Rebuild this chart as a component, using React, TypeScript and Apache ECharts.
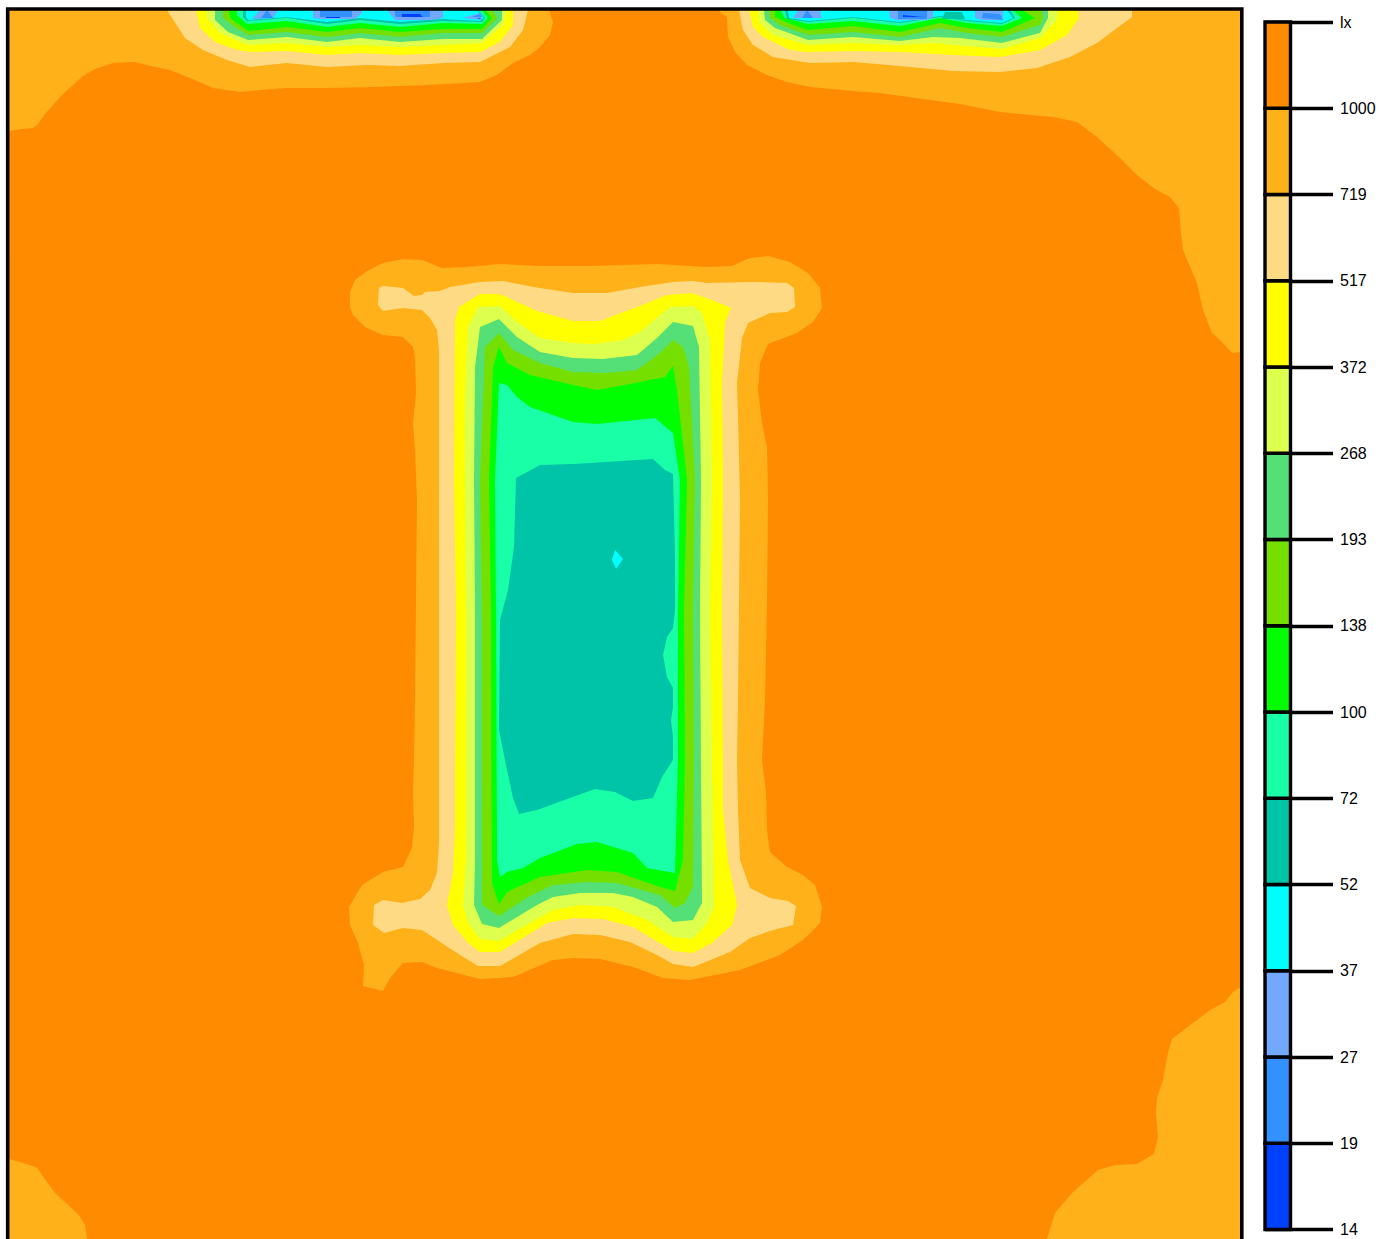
import React, { useEffect, useRef } from "react";
import * as echarts from "echarts";

type Pt = [number, number];

// Legend: classes from the lowest upward, with the limits on the colour bar
const tickLabels = ["14", "19", "27", "37", "52", "72", "100", "138", "193", "268", "372", "517", "719", "1000", "lx"];
const classColors = ["#0040FF", "#3390FF", "#73A8FF", "#00FFFF", "#00C4A8", "#19FFA8", "#00FF00", "#75DF00", "#55E077", "#DDFF4D", "#FFFF00", "#FFDA85", "#FFB119", "#FF8C00"];

// Contours of class 719-1000 lx
const c1000TopLeft: Pt[] = [[9,10],[549,10],[553,22],[550,35],[540,47],[530,55],[513,63],[497,75],[480,82],[427,85],[373,87],[327,88],[287,88],[260,90],[240,92],[213,88],[190,78],[170,70],[160,68],[147,65],[135,62],[113,63],[95,69],[83,76],[62,95],[45,114],[38,124],[33,128],[22,129],[9,131]];
const c1000TopRight: Pt[] = [[720,10],[1241,10],[1241,352],[1232,353],[1220,340],[1212,333],[1203,310],[1197,283],[1183,250],[1181,233],[1179,208],[1170,197],[1155,189],[1138,176],[1120,158],[1097,137],[1077,122],[1053,117],[1040,116],[1000,112],[960,104],[923,99],[880,93],[853,91],[810,87],[787,82],[767,75],[747,65],[735,52],[728,37],[727,17],[720,12]];
const c1000BottomLeft: Pt[] = [[9,1159],[30,1165],[37,1168],[55,1193],[78,1214],[85,1225],[88,1245],[9,1245]];
const c1000BottomRight: Pt[] = [[1241,987],[1233,992],[1225,1002],[1210,1010],[1193,1023],[1172,1039],[1168,1053],[1163,1080],[1157,1098],[1156,1113],[1158,1137],[1154,1154],[1137,1164],[1115,1165],[1098,1170],[1072,1193],[1055,1213],[1045,1245],[1241,1245]];
const c1000Centre: Pt[] = [[350,292],[355,280],[367,271],[383,263],[403,259],[422,260],[442,268],[467,267],[500,264],[540,266],[590,266],[657,264],[707,267],[732,266],[750,258],[768,256],[790,262],[808,273],[820,288],[822,308],[813,322],[797,333],[768,344],[760,363],[758,390],[762,423],[767,447],[768,500],[767,600],[765,700],[762,760],[766,793],[767,830],[770,852],[787,867],[803,875],[815,885],[822,907],[820,923],[803,940],[780,955],[740,970],[690,980],[663,978],[633,967],[600,959],[573,958],[553,960],[513,977],[480,979],[437,968],[422,962],[403,963],[390,978],[383,991],[363,986],[364,965],[358,943],[350,925],[349,907],[362,885],[383,872],[403,867],[412,848],[414,827],[413,793],[414,760],[415,700],[416,600],[417,500],[415,450],[413,423],[416,393],[415,357],[413,347],[403,337],[383,335],[365,327],[353,315],[350,307]];

// Contours of class 517-719 lx
const c719Centre: Pt[] = [[378,305],[379,288],[383,286],[403,288],[414,296],[422,295],[425,292],[440,291],[450,287],[480,282],[503,281],[533,287],[573,293],[607,293],[640,287],[673,282],[693,281],[707,283],[753,282],[787,283],[794,288],[795,307],[787,312],[770,313],[748,323],[742,338],[737,383],[738,417],[740,500],[738,700],[737,760],[738,810],[740,860],[750,888],[770,898],[788,901],[796,906],[793,925],[773,930],[750,938],[730,952],[693,967],[673,964],[657,955],[630,942],[600,935],[573,934],[540,943],[500,966],[478,966],[457,953],[422,930],[403,928],[384,933],[373,925],[374,905],[383,900],[402,903],[420,899],[430,890],[437,873],[439,843],[439,760],[439,500],[439,350],[437,330],[430,318],[422,310],[403,308],[383,311]];
const c719Left: Pt[] = [[167,10],[185,38],[203,50],[227,60],[250,67],[287,63],[327,67],[367,65],[400,66],[443,63],[480,62],[510,47],[523,30],[528,10]];
const c719Right: Pt[] = [[739,10],[743,30],[753,45],[773,57],[810,63],[853,62],[900,66],[953,71],[1000,72],[1037,68],[1070,57],[1097,43],[1117,28],[1132,17],[1132,10]];

// Contours of class 372-517 lx
const c517Centre: Pt[] = [[454,480],[455,320],[459,307],[480,294],[500,294],[537,311],[573,321],[600,321],[637,307],[667,295],[692,293],[717,302],[731,308],[725,322],[722,383],[723,480],[722,613],[723,780],[723,810],[728,860],[737,905],[732,925],[712,943],[693,953],[673,951],[633,927],[603,919],[573,918],[547,923],[500,952],[480,952],[468,943],[453,925],[447,905],[453,873],[455,827],[455,780],[456,613]];
const c517Left: Pt[] = [[196,10],[200,28],[215,42],[237,50],[250,52],[287,51],[327,55],[360,53],[400,55],[443,53],[480,52],[500,42],[513,25],[513,10]];
const c517Right: Pt[] = [[749,10],[753,27],[763,37],[790,50],[807,52],[853,51],[900,52],[953,55],[1000,57],[1040,50],[1067,35],[1079,18],[1078,10]];

// Contours of class 268-372 lx
const c372Centre: Pt[] = [[465,480],[465,400],[468,327],[478,307],[500,306],[517,322],[540,338],[573,343],[593,344],[623,340],[640,332],[660,315],[670,307],[693,306],[702,313],[710,340],[712,480],[710,613],[712,760],[714,907],[707,923],[693,939],[673,937],[647,920],[613,907],[580,905],[553,910],[530,923],[499,941],[480,939],[468,923],[463,905],[466,860],[466,613]];
const c372Left: Pt[] = [[206,10],[207,18],[220,33],[248,45],[287,43],[327,47],[360,45],[400,47],[443,45],[482,43],[503,25],[507,10]];
const c372Right: Pt[] = [[758,10],[760,23],[773,35],[808,45],[853,43],[900,45],[933,43],[953,45],[1002,49],[1040,38],[1057,20],[1058,10]];

// Contours of class 193-268 lx
const c268Centre: Pt[] = [[474,480],[475,367],[480,327],[499,319],[517,337],[540,352],[573,358],[603,359],[637,355],[657,338],[673,322],[693,326],[699,347],[701,480],[700,613],[701,760],[702,903],[693,920],[673,922],[657,907],[633,897],[613,893],[580,893],[553,897],[537,905],[499,928],[482,924],[474,905],[475,860],[475,613]];
const c268Left: Pt[] = [[215,10],[215,20],[228,32],[248,40],[287,37],[327,42],[360,38],[400,42],[443,39],[482,39],[502,20],[502,10]];
const c268Right: Pt[] = [[764,10],[765,20],[775,28],[808,40],[853,37],[900,41],[933,37],[960,38],[1002,43],[1040,33],[1048,18],[1048,10]];

// Contours of class 138-193 lx
const c193Centre: Pt[] = [[480,480],[485,347],[499,333],[513,350],[540,363],[573,372],[607,373],[637,370],[660,353],[673,340],[683,347],[689,367],[695,480],[693,613],[694,760],[693,887],[685,903],[675,908],[660,895],[617,883],[587,882],[553,885],[528,897],[499,916],[482,905],[482,613]];
const c193Left: Pt[] = [[223,10],[223,18],[232,25],[248,35],[287,32],[327,37],[360,33],[400,37],[443,33],[482,33],[497,18],[492,10]];
const c193Right: Pt[] = [[769,10],[770,18],[780,25],[808,35],[853,32],[900,37],[940,28],[967,33],[1002,37],[1040,25],[1043,18],[1042,10]];

// Contours of class 100-138 lx
const c138Centre: Pt[] = [[489,480],[493,367],[499,347],[507,363],[530,375],[573,385],[597,390],[630,384],[665,377],[673,366],[677,390],[687,480],[684,613],[685,760],[683,860],[675,891],[660,887],[617,872],[587,870],[540,877],[507,892],[499,904],[492,883],[491,613]];
const c138Left: Pt[] = [[229,10],[230,18],[248,31],[287,27],[327,32],[360,28],[400,32],[443,29],[482,29],[492,18],[485,10]];
const c138Right: Pt[] = [[775,10],[775,17],[788,23],[808,30],[853,26],[900,32],[940,23],[967,28],[1002,32],[1035,18],[1022,10]];

// Contours of class 72-100 lx
const c100Centre: Pt[] = [[495,480],[499,383],[507,385],[517,397],[530,407],[573,422],[597,424],[655,418],[673,433],[680,480],[678,613],[678,760],[675,873],[647,868],[633,853],[597,842],[577,844],[540,858],[523,868],[507,872],[500,877],[497,860],[496,613]];
const c100Left: Pt[] = [[237,10],[237,15],[247,24],[287,21],[327,27],[360,23],[400,27],[443,23],[482,24],[488,18],[482,10]];
const c100Right: Pt[] = [[780,10],[785,18],[808,24],[853,21],[900,26],[940,18],[967,23],[1002,26],[1022,18],[1013,10]];

// Contours of class 52-72 lx
const c72Centre: Pt[] = [[516,478],[540,465],[573,464],[653,459],[665,470],[673,474],[674,513],[675,560],[675,610],[673,628],[667,637],[663,655],[667,677],[673,688],[673,707],[671,720],[673,737],[673,760],[662,777],[653,798],[633,801],[615,792],[595,789],[570,798],[537,810],[519,814],[513,798],[506,765],[499,730],[500,620],[508,590],[514,547],[515,513]];
const c72Left: Pt[] = [[243,10],[243,17],[247,21],[287,18],[327,24],[360,20],[400,24],[443,21],[482,22],[485,18],[478,10]];
const c72Right: Pt[] = [[785,10],[787,19],[808,22],[853,18],[900,23],[940,17],[967,21],[1002,24],[1015,18],[1010,10]];

// Contours of class 37-52 lx
const c52Centre: Pt[] = [[615,550],[623,559],[616,569],[612,560]];
const c52Left: Pt[] = [[246,10],[246,17],[248,20],[287,17],[327,22],[360,18],[400,22],[443,19],[480,21],[484,18],[477,10]];
const c52Right: Pt[] = [[788,10],[789,18],[808,21],[853,17],[900,22],[940,16],[967,20],[1002,23],[1013,18],[1007,10]];
const c72RightSpot: Pt[] = [[942,19],[945,12],[962,12],[965,19]];

// Contours of class 27-37 lx
const c37Left1: Pt[] = [[252,19],[260,10],[278,10],[273,18]];
const c37Left2: Pt[] = [[313,10],[313,18],[320,19],[355,19],[362,13],[362,10]];
const c37Left3: Pt[] = [[387,10],[395,20],[430,20],[443,18],[443,10]];
const c37Left4: Pt[] = [[462,18],[480,13],[482,20]];
const c37Right1: Pt[] = [[793,18],[798,10],[820,10],[822,18]];
const c37Right2: Pt[] = [[889,10],[890,18],[897,20],[927,20],[933,17],[933,10]];
const c37Right3: Pt[] = [[975,10],[975,18],[983,20],[1003,20],[1003,10]];

// Contours of class 19-27 lx
const c27Left1: Pt[] = [[261,18],[267,10],[273,18]];
const c27Left2: Pt[] = [[320,10],[320,17],[352,17],[352,10]];
const c27Left3: Pt[] = [[395,10],[395,17],[430,17],[430,10]];
const c27Left4: Pt[] = [[472,17],[482,17],[480,14]];
const c27Right1: Pt[] = [[802,18],[807,10],[813,18]];
const c27Right2: Pt[] = [[898,10],[898,19],[927,19],[927,10]];
const c27Right3: Pt[] = [[983,13],[1000,14],[1003,20],[982,18]];

// Contours of class 14-19 lx
const c19Left2: Pt[] = [[326,17],[340,17],[340,18],[326,18]];
const c19Left3: Pt[] = [[402,14],[420,14],[423,17],[402,17]];
const c19Left4: Pt[] = [[477,18],[481,18],[480,19]];
const c19Right2: Pt[] = [[903,15],[923,17],[903,17]];

// Painted from the brightest class inwards: [class index, contour]
const contours: [number, Pt[]][] = [
  [12, c1000TopLeft], [12, c1000TopRight], [12, c1000BottomLeft], [12, c1000BottomRight], [12, c1000Centre],
  [11, c719Centre], [11, c719Left], [11, c719Right],
  [10, c517Centre], [10, c517Left], [10, c517Right],
  [9, c372Centre], [9, c372Left], [9, c372Right],
  [8, c268Centre], [8, c268Left], [8, c268Right],
  [7, c193Centre], [7, c193Left], [7, c193Right],
  [6, c138Centre], [6, c138Left], [6, c138Right],
  [5, c100Centre], [5, c100Left], [5, c100Right],
  [4, c72Centre], [4, c72Left], [4, c72Right],
  [3, c52Centre], [3, c52Left], [3, c52Right],
  [4, c72RightSpot],
  [2, c37Left1], [2, c37Left2], [2, c37Left3], [2, c37Left4], [2, c37Right1], [2, c37Right2], [2, c37Right3],
  [1, c27Left1], [1, c27Left2], [1, c27Left3], [1, c27Left4], [1, c27Right1], [1, c27Right2], [1, c27Right3],
  [0, c19Left2], [0, c19Left3], [0, c19Left4], [0, c19Right2],
];

export default function App() {
  const ref = useRef<HTMLDivElement>(null);
  useEffect(() => {
    const chart = echarts.init(ref.current!, undefined, { renderer: "svg" });
    chart.setOption({
      animation: false,
      backgroundColor: "#FFFFFF",
      textStyle: { fontFamily: "Liberation Sans" },
      grid: [
        { left: 8, top: 9, width: 1234, height: 1240, outerBoundsMode: "none", show: true, backgroundColor: classColors[13], borderWidth: 0 },
        { left: 1265, top: 22, width: 68, height: 1207.5, outerBoundsMode: "none", show: false },
      ],
      xAxis: [
        { gridIndex: 0, type: "value", min: 8, max: 1242, show: false },
        { gridIndex: 1, type: "value", min: 0, max: 68, show: false },
      ],
      yAxis: [
        { gridIndex: 0, type: "value", min: 9, max: 1249, inverse: true, show: false },
        {
          gridIndex: 1,
          type: "value",
          min: 0,
          max: 14,
          interval: 1,
          position: "right",
          splitLine: { show: true, showMinLine: true, showMaxLine: true, lineStyle: { color: "#000", width: 3.4 } },
          axisLine: { show: false },
          axisTick: { show: false },
          axisLabel: {
            show: true,
            margin: 7,
            color: "#000",
            fontSize: 16,
            fontFamily: "Liberation Sans",
            padding: [2, 0, 0, 0],
            formatter: (v: number) => tickLabels[v],
          },
        },
      ],
      series: [
        {
          type: "custom",
          xAxisIndex: 0,
          yAxisIndex: 0,
          silent: true,
          data: contours.map((_, i) => [i]),
          renderItem: (params: any, api: any) => {
            const [cls, pts] = contours[params.dataIndex];
            return {
              type: "polygon",
              shape: { points: pts.map((p) => api.coord(p)) },
              style: { fill: classColors[cls], stroke: "none" },
            };
          },
        },
        {
          type: "custom",
          xAxisIndex: 1,
          yAxisIndex: 1,
          silent: true,
          data: classColors.map((_, i) => [i]),
          renderItem: (params: any, api: any) => {
            const i = params.dataIndex;
            const a = api.coord([0, i + 1]);
            const b = api.coord([25.5, i]);
            return {
              type: "rect",
              shape: { x: a[0], y: a[1], width: b[0] - a[0], height: b[1] - a[1] },
              style: { fill: classColors[i], stroke: "#000", lineWidth: 3.4 },
            };
          },
        },
      ],
      graphic: [
        {
          type: "rect",
          z: 100,
          silent: true,
          shape: { x: 7.7, y: 9, width: 1234.1, height: 1240 },
          style: { fill: "none", stroke: "#000", lineWidth: 3.6 },
        },
      ],
    });
    return () => chart.dispose();
  }, []);
  return (
    <div
      ref={ref}
      style={{ position: "absolute", left: 0, top: 0, width: 1381, height: 1239, overflow: "hidden" }}
    />
  );
}
